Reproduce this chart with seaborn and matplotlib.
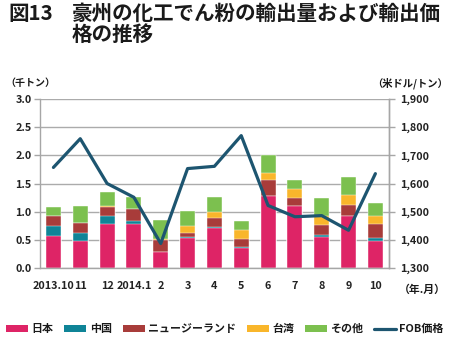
import matplotlib
matplotlib.use("Agg")
import matplotlib.pyplot as plt
from matplotlib.patches import Patch
from matplotlib.lines import Line2D
import numpy as np
import pandas as pd
import seaborn as sns

# ---- data ----
months = ["2013.10", "11", "12", "2014.1", "2", "3", "4", "5", "6", "7", "8", "9", "10"]
japan = [0.566, 0.483, 0.784, 0.784, 0.277, 0.530, 0.707, 0.354, 1.285, 1.096, 0.554, 0.919, 0.483]
china = [0.176, 0.130, 0.135, 0.053, 0.005, 0.018, 0.013, 0.011, 0.000, 0.000, 0.029, 0.000, 0.047]
nz = [0.177, 0.187, 0.159, 0.206, 0.213, 0.071, 0.164, 0.148, 0.271, 0.153, 0.189, 0.206, 0.248]
taiwan = [0.005, 0.000, 0.018, 0.012, 0.018, 0.135, 0.106, 0.153, 0.129, 0.151, 0.147, 0.171, 0.153]
other = [0.160, 0.300, 0.259, 0.212, 0.347, 0.259, 0.277, 0.171, 0.315, 0.167, 0.324, 0.319, 0.218]
fob_price = [1657, 1759, 1600, 1551, 1387, 1653, 1661, 1770, 1522, 1482, 1486, 1434, 1635]

series_names = ["日本", "中国", "ニュージーランド", "台湾", "その他"]
series_vals = [japan, china, nz, taiwan, other]
colors = ["#DE2466", "#0F8497", "#A83C3A", "#F9B62B", "#7CC04F"]
line_color = "#1D5570"
line_name = "FOB価格"

fig_no = "図13"
title1 = "豪州の化工でん粉の輸出量および輸出価"
title2 = "格の推移"
left_unit = "（千トン）"
right_unit = "（米ドル/トン）"
x_unit = "（年.月）"

sns.set_theme(style="white")
FONT = ["Noto Sans CJK JP", "DejaVu Sans"]
plt.rcParams["font.family"] = FONT

fig = plt.figure(figsize=(4.5, 3.46), dpi=100)
ax = fig.add_axes([0.0889, 0.2254, 0.7751, 0.4885])

df = pd.DataFrame({"month": months})
cum = np.cumsum(np.array(series_vals), axis=0)
# draw from top cumulative down so segments appear stacked
for i in range(len(series_names) - 1, -1, -1):
    df["v"] = cum[i]
    sns.barplot(data=df, x="month", y="v", color=colors[i], saturation=1,
                width=0.56, ax=ax, order=months, edgecolor="#ffffff",
                linewidth=0.3, zorder=2)

ax.set_ylim(0, 3.0)
ax.set_yticks(np.arange(0, 3.01, 0.5))
ax.set_yticklabels([f"{v:.1f}" for v in np.arange(0, 3.01, 0.5)])
ax.set_xlim(-0.5, len(months) - 0.5)
ax.set_xlabel("")
ax.set_ylabel("")
ax.yaxis.grid(True, color="#ABABAB", linewidth=1.0, zorder=0)
ax.set_axisbelow(True)

grey = "#A6A6A6"
ax.spines["top"].set_visible(False)
for s in ["left", "bottom", "right"]:
    ax.spines[s].set_color(grey)
    ax.spines[s].set_linewidth(1.0)

# x ticks at category boundaries
ax.set_xticks(np.arange(len(months)), labels=months, minor=False)
ax.tick_params(axis="x", which="major", length=0, pad=9, labelsize=7.8, labelcolor="#222222")
ax.set_xticks(np.arange(-0.5, len(months), 1.0), minor=True)
ax.tick_params(axis="x", which="minor", length=4, color=grey, width=1, direction="out")
ax.tick_params(axis="y", length=4, color=grey, width=1, direction="out",
               labelsize=7.8, labelcolor="#222222", pad=2, left=True)
for lab in ax.get_xticklabels() + ax.get_yticklabels():
    lab.set_fontweight("bold")

ax2 = ax.twinx()
sns.lineplot(x=np.arange(len(months)), y=fob_price, ax=ax2, color=line_color,
             linewidth=2.3, zorder=5)
ax2.set_ylim(1300, 1900)
ax2.set_yticks(np.arange(1300, 1901, 100))
ax2.set_yticklabels([f"{v:,}" for v in range(1300, 1901, 100)])
ax2.tick_params(axis="y", length=4, color=grey, width=1, direction="out",
                labelsize=7.8, labelcolor="#222222", pad=4, right=True)
for lab in ax2.get_yticklabels():
    lab.set_fontweight("bold")
for s in ["top", "left", "bottom"]:
    ax2.spines[s].set_visible(False)
ax2.spines["right"].set_color(grey)
ax2.spines["right"].set_linewidth(1.0)
ax2.grid(False)
ax2.set_xlim(-0.5, len(months) - 0.5)

# titles and unit labels
tcol = "#1a1a1a"
fig.text(8 / 450, 1 - 13 / 346, fig_no, fontsize=14.8, fontweight="bold",
         va="center", ha="left", color=tcol)
fig.text(72 / 450, 1 - 13 / 346, title1, fontsize=14.8, fontweight="bold",
         va="center", ha="left", color=tcol)
fig.text(72 / 450, 1 - 34 / 346, title2, fontsize=14.8, fontweight="bold",
         va="center", ha="left", color=tcol)
fig.text(5 / 450, 1 - 83 / 346, left_unit, fontsize=7.2, fontweight="bold",
         va="center", ha="left", color=tcol)
fig.text(448 / 450, 1 - 83 / 346, right_unit, fontsize=7.4, fontweight="bold",
         va="center", ha="right", color=tcol)
fig.text(446 / 450, 1 - 290 / 346, x_unit, fontsize=7.8, fontweight="bold",
         va="center", ha="right", color=tcol)

handles = [Patch(facecolor=c, edgecolor="none") for c in colors]
handles.append(Line2D([], [], color=line_color, linewidth=2.3))
labels = series_names + [line_name]
leg = fig.legend(handles, labels, loc="center", bbox_to_anchor=(0.5, 1 - 329 / 346),
                 ncol=6, frameon=False, fontsize=7.9, handlelength=2.0,
                 handleheight=0.55, handletextpad=0.3, columnspacing=1.0,
                 borderaxespad=0)
for t in leg.get_texts():
    t.set_fontweight("bold")
    t.set_color(tcol)

fig.savefig("out.png", dpi=100)
